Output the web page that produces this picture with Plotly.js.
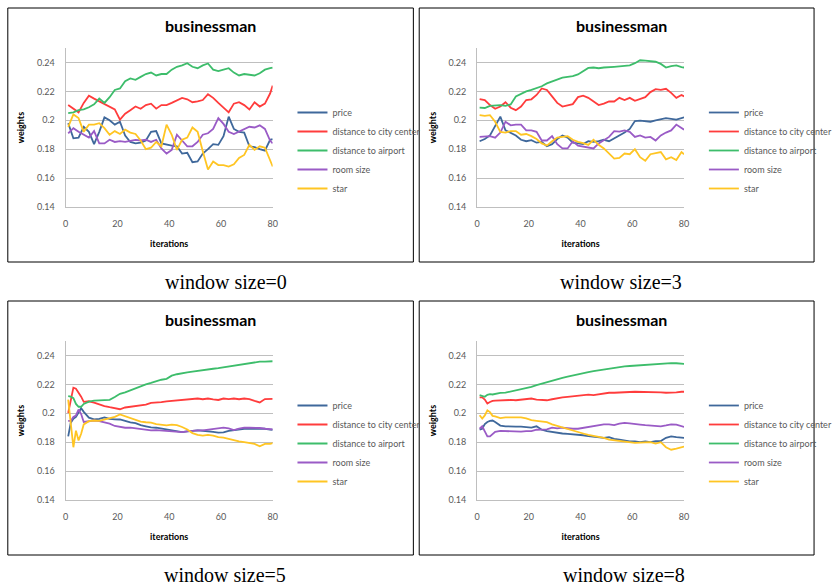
<!DOCTYPE html>
<html>
<head>
<meta charset="utf-8">
<script src="https://cdn.plot.ly/plotly-3.0.1.min.js"></script>
<style>
html,body{margin:0;padding:0;background:#fff;overflow:hidden;}
#chart{width:837px;height:586px;}
</style>
</head>
<body>
<div id="chart"></div>
<script>
// ---------------- data ----------------
const seriesNames = ["price", "distance to city center", "distance to airport", "room size", "star"];
const panelTitle = "businessman";
const captions = ["window size=0", "window size=3", "window size=5", "window size=8"];
const xTickVals = [0, 20, 40, 60, 80];
const yTickVals = [0.14, 0.16, 0.18, 0.2, 0.22, 0.24];
const yTickText = ["0.14", "0.16", "0.18", "0.2", "0.22", "0.24"];

const xSparse = [1,3,5,7,9,11,13,15,17,19,21,23,25,27,29,31,33,35,37,39,41,43,45,47,49,51,53,55,57,59,61,63,65,67,69,71,73,75,77,79,80];
const xDense = [1,2,3,4,5,6,7,9,11,13,15,17,19,21,23,25,27,29,31,33,35,37,39,41,43,45,47,49,51,53,55,57,59,61,63,65,67,69,71,73,75,77,79,80];

// window size = 0
const w0_price = [0.198,0.1875,0.188,0.1955,0.192,0.1835,0.192,0.202,0.200,0.197,0.199,0.1895,0.185,0.184,0.1845,0.186,0.192,0.1925,0.184,0.183,0.1825,0.182,0.177,0.1775,0.171,0.1715,0.177,0.180,0.1835,0.183,0.189,0.2025,0.194,0.192,0.1915,0.182,0.1815,0.180,0.179,0.1865,0.187];
const w0_city = [0.2105,0.208,0.2055,0.212,0.217,0.215,0.213,0.211,0.2095,0.2075,0.2005,0.2045,0.207,0.2095,0.208,0.2105,0.2115,0.208,0.2105,0.2105,0.212,0.2135,0.2155,0.2145,0.2125,0.213,0.214,0.218,0.2155,0.212,0.209,0.2055,0.2115,0.2125,0.2105,0.2075,0.2125,0.2095,0.2115,0.2185,0.224];
const w0_airport = [0.205,0.2055,0.207,0.2075,0.209,0.211,0.215,0.212,0.216,0.221,0.222,0.227,0.229,0.228,0.230,0.232,0.233,0.231,0.232,0.232,0.235,0.237,0.238,0.2395,0.237,0.236,0.238,0.2393,0.235,0.234,0.235,0.236,0.233,0.231,0.232,0.2315,0.231,0.2325,0.235,0.236,0.2365];
const w0_room = [0.191,0.1945,0.192,0.19,0.188,0.1925,0.184,0.184,0.1865,0.185,0.1855,0.185,0.1855,0.1865,0.186,0.1865,0.185,0.1865,0.1805,0.177,0.1795,0.190,0.186,0.182,0.182,0.185,0.190,0.191,0.194,0.2015,0.1975,0.192,0.1905,0.192,0.1935,0.1955,0.195,0.1965,0.194,0.186,0.184];
const w0_star = [0.1955,0.204,0.2015,0.192,0.197,0.197,0.198,0.1945,0.190,0.1925,0.1905,0.1935,0.1915,0.1905,0.186,0.180,0.181,0.185,0.182,0.197,0.190,0.1795,0.1865,0.188,0.195,0.192,0.1785,0.166,0.1715,0.169,0.169,0.168,0.1695,0.174,0.176,0.183,0.1795,0.182,0.181,0.172,0.168];

// window size = 3
const w3_price = [0.1855,0.187,0.1895,0.1965,0.2025,0.193,0.1915,0.1895,0.1865,0.1855,0.1863,0.1845,0.185,0.182,0.1835,0.187,0.1895,0.188,0.1845,0.1838,0.1835,0.1855,0.185,0.1855,0.1865,0.1855,0.1875,0.189,0.1915,0.194,0.1995,0.1998,0.1995,0.199,0.2,0.201,0.2015,0.201,0.2005,0.2015,0.202];
const w3_city = [0.2147,0.214,0.2105,0.208,0.2095,0.2125,0.2087,0.207,0.2095,0.214,0.2145,0.2175,0.222,0.221,0.2165,0.212,0.2095,0.2105,0.2112,0.216,0.217,0.2155,0.213,0.2105,0.2115,0.213,0.213,0.2155,0.214,0.2155,0.2135,0.2148,0.216,0.2195,0.2215,0.221,0.2218,0.219,0.2155,0.2175,0.2165];
const w3_airport = [0.2087,0.2085,0.21,0.2102,0.2105,0.21,0.211,0.2165,0.2185,0.22,0.221,0.222,0.2235,0.2255,0.227,0.2285,0.2295,0.23,0.2305,0.2317,0.234,0.2362,0.2365,0.236,0.2365,0.237,0.237,0.2373,0.2375,0.238,0.2395,0.2415,0.2412,0.241,0.2405,0.239,0.2365,0.2375,0.238,0.2367,0.2365];
const w3_room = [0.1885,0.1885,0.189,0.188,0.1915,0.199,0.1965,0.197,0.197,0.193,0.193,0.192,0.186,0.186,0.189,0.1835,0.1805,0.1805,0.1855,0.1825,0.182,0.181,0.1805,0.184,0.1862,0.1885,0.1925,0.1922,0.193,0.192,0.1885,0.1895,0.188,0.1885,0.186,0.1895,0.1915,0.193,0.197,0.195,0.1935];
const w3_star = [0.2035,0.203,0.2035,0.199,0.192,0.1915,0.1925,0.1925,0.19,0.1905,0.189,0.187,0.184,0.1825,0.1855,0.188,0.1885,0.189,0.1865,0.185,0.1842,0.183,0.1865,0.183,0.1805,0.177,0.1735,0.174,0.177,0.1765,0.18,0.1745,0.172,0.1765,0.177,0.178,0.173,0.1745,0.1725,0.178,0.1765];

// window size = 5
const w5_price = [0.184,0.1935,0.1962,0.1975,0.2005,0.2035,0.201,0.197,0.1958,0.1962,0.1972,0.1962,0.1958,0.1957,0.1948,0.1937,0.1932,0.1918,0.191,0.1902,0.19,0.1895,0.1887,0.1881,0.1878,0.187,0.1875,0.1879,0.1881,0.1879,0.1877,0.1872,0.1866,0.1868,0.1878,0.1884,0.1888,0.1893,0.1893,0.1893,0.1893,0.1893,0.1887,0.1886];
const w5_city = [0.2002,0.2085,0.2177,0.217,0.2145,0.2115,0.2079,0.2083,0.2073,0.206,0.205,0.2042,0.2033,0.2028,0.204,0.2044,0.2048,0.2052,0.206,0.2072,0.2072,0.2077,0.2083,0.2087,0.2091,0.2091,0.2094,0.2098,0.2102,0.2097,0.2102,0.2096,0.2092,0.2102,0.2098,0.2102,0.2097,0.2102,0.2098,0.2086,0.2075,0.2098,0.21,0.21];
const w5_airport = [0.2118,0.2115,0.2105,0.2065,0.2045,0.2045,0.2065,0.208,0.2087,0.2088,0.209,0.2093,0.2112,0.2135,0.2145,0.216,0.2175,0.2188,0.22,0.221,0.2222,0.2232,0.2238,0.226,0.227,0.2278,0.2283,0.2288,0.2294,0.2298,0.2303,0.2308,0.2312,0.2318,0.2325,0.2332,0.2337,0.2342,0.235,0.2355,0.2357,0.2358,0.236,0.236];
const w5_room = [0.1947,0.1947,0.1974,0.1985,0.2026,0.1995,0.194,0.1947,0.195,0.1945,0.1938,0.1928,0.1912,0.1905,0.19,0.19,0.1895,0.1888,0.1885,0.1881,0.1883,0.1881,0.1879,0.1876,0.187,0.187,0.1875,0.1879,0.1881,0.1881,0.1886,0.189,0.1895,0.19,0.1895,0.1883,0.1893,0.19,0.19,0.19,0.1898,0.1893,0.1888,0.1888];
const w5_star = [0.2095,0.194,0.1765,0.188,0.1812,0.1858,0.1923,0.1945,0.195,0.1948,0.1958,0.1966,0.1975,0.1992,0.198,0.1963,0.1955,0.1942,0.1938,0.1935,0.1925,0.192,0.1916,0.1922,0.1918,0.1905,0.1888,0.1863,0.185,0.1845,0.185,0.1845,0.1835,0.1832,0.1822,0.1812,0.1806,0.18,0.1795,0.1788,0.1772,0.1788,0.1788,0.1793];

// window size = 8
const w8_price = [0.1887,0.1893,0.1925,0.194,0.1947,0.195,0.194,0.1915,0.191,0.1911,0.1907,0.1907,0.1905,0.1901,0.191,0.1886,0.1877,0.187,0.1864,0.186,0.1858,0.1856,0.1853,0.1848,0.1842,0.1838,0.1834,0.183,0.1835,0.1823,0.1817,0.1809,0.1806,0.1805,0.18,0.1805,0.18,0.1808,0.1808,0.183,0.184,0.1835,0.183,0.183];
const w8_city = [0.211,0.211,0.2095,0.2068,0.2078,0.2086,0.2088,0.209,0.209,0.2092,0.209,0.2095,0.21,0.2102,0.2095,0.2095,0.209,0.2097,0.2105,0.211,0.2114,0.2118,0.2122,0.2127,0.2129,0.2125,0.213,0.2138,0.2142,0.2142,0.2142,0.2143,0.2147,0.2149,0.2149,0.2149,0.2145,0.2147,0.2145,0.2142,0.2142,0.2145,0.2149,0.2149];
const w8_airport = [0.2125,0.2118,0.2114,0.2128,0.2132,0.213,0.2135,0.2141,0.2143,0.215,0.216,0.2163,0.2172,0.2182,0.2194,0.2205,0.2212,0.2226,0.2233,0.2245,0.2253,0.2262,0.2271,0.2276,0.2284,0.2291,0.2297,0.2305,0.231,0.2316,0.232,0.2324,0.2327,0.233,0.2332,0.2334,0.2335,0.2337,0.2341,0.2345,0.2347,0.2346,0.2342,0.2342];
const w8_room = [0.1893,0.191,0.1875,0.184,0.184,0.1858,0.1872,0.1878,0.1877,0.1872,0.187,0.1873,0.1877,0.1877,0.1886,0.1886,0.1888,0.19,0.1895,0.19,0.1895,0.1893,0.1893,0.19,0.1906,0.1913,0.1918,0.1923,0.1923,0.1918,0.1928,0.1933,0.193,0.1924,0.1922,0.1918,0.1916,0.1914,0.191,0.1916,0.1923,0.1922,0.1908,0.1905];
const w8_star = [0.1986,0.1963,0.1985,0.2021,0.2008,0.1982,0.1978,0.1967,0.1972,0.1972,0.1974,0.1972,0.1965,0.1953,0.1948,0.1945,0.1938,0.1923,0.1912,0.19,0.1888,0.1879,0.187,0.186,0.185,0.1843,0.1838,0.183,0.1818,0.1813,0.181,0.1806,0.18,0.1795,0.1797,0.18,0.18,0.179,0.18,0.1765,0.1748,0.1756,0.1767,0.177];

// ---------------- styling / layout ----------------
const colors = ["#3F689B", "#FF3C3C", "#3DBD6B", "#9A5BC6", "#FFC523"];
const W = 837, H = 586;
const px = v => v / W;
const py = v => 1 - v / H;

const panels = [
  {x: xSparse, ys: [w0_price, w0_city, w0_airport, w0_room, w0_star], ox: 0,   oy: 0,   cx: 232},
  {x: xSparse, ys: [w3_price, w3_city, w3_airport, w3_room, w3_star], ox: 422, oy: 0,   cx: 637},
  {x: xDense,  ys: [w5_price, w5_city, w5_airport, w5_room, w5_star], ox: 0,   oy: 293, cx: 231},
  {x: xDense,  ys: [w8_price, w8_city, w8_airport, w8_room, w8_star], ox: 422, oy: 293, cx: 640}
];

const fam = "Lato, 'Liberation Sans', sans-serif";
const tickFont = {family: fam, size: 9, color: "#595959"};
const boldFont = {family: fam, size: 9, color: "#000"};

const data = [];
const layout = {
  width: W, height: H,
  margin: {l: 0, r: 0, t: 0, b: 0},
  paper_bgcolor: "#fff", plot_bgcolor: "#fff",
  shapes: [], annotations: []
};

panels.forEach((p, i) => {
  const k = i + 1;
  const sfx = k === 1 ? "" : String(k);
  const legendId = k === 1 ? "legend" : "legend" + k;
  p.ys.forEach((y, s) => {
    data.push({
      type: "scatter", mode: "lines",
      x: p.x, y: y, name: seriesNames[s],
      xaxis: "x" + sfx, yaxis: "y" + sfx,
      legend: legendId,
      line: {color: colors[s], width: 1.8},
      hoverinfo: "skip"
    });
  });
  const xL = 67.3 + p.ox, xR = 279.7 + p.ox;
  const yB = 207 + p.oy, yT = 48 + p.oy;
  layout["xaxis" + sfx] = {
    domain: [px(xL), px(xR)], anchor: "y" + sfx,
    range: [0, 80], tickvals: xTickVals, ticks: "",
    showgrid: false, zeroline: false, showline: true, linecolor: "#BFBFBF", linewidth: 1,
    tickfont: tickFont, ticklabelstandoff: 8,
    title: {text: "<b>iterations</b>", font: boldFont, standoff: 12},
    fixedrange: true
  };
  layout["yaxis" + sfx] = {
    domain: [py(yB), py(yT)], anchor: "x" + sfx,
    range: [0.14, 0.25], tickvals: yTickVals, ticktext: yTickText, ticks: "",
    showgrid: true, gridcolor: "#BFBFBF", gridwidth: 1,
    zeroline: false, showline: true, linecolor: "#BFBFBF", linewidth: 1,
    tickfont: tickFont, ticklabelstandoff: 8,
    title: {text: "<b>weights</b>", font: boldFont, standoff: 10},
    fixedrange: true
  };
  layout[legendId] = {
    x: px(300 + p.ox), y: py(98 + p.oy), xanchor: "left", yanchor: "top",
    font: tickFont, bgcolor: "rgba(0,0,0,0)", borderwidth: 0,
    itemwidth: 30, tracegroupgap: 0
  };
  // panel frame
  layout.shapes.push({
    type: "rect", xref: "paper", yref: "paper",
    x0: px(8 + p.ox), x1: px(p.ox ? 835 : 424),
    y0: py(8 + p.oy), y1: py(262 + p.oy),
    line: {color: "#000", width: 1}
  });
  // chart title
  layout.annotations.push({
    xref: "paper", yref: "paper", x: px(215.5 + p.ox), y: py(26 + p.oy),
    xanchor: "center", yanchor: "middle", showarrow: false,
    text: "<b>" + panelTitle + "</b>",
    font: {family: fam, size: 16, color: "#000"}
  });
  // caption
  layout.annotations.push({
    xref: "paper", yref: "paper", x: px(p.cx), y: py(282 + p.oy),
    xanchor: "center", yanchor: "middle", showarrow: false,
    text: captions[i],
    font: {family: "'Liberation Serif', 'Times New Roman', serif", size: 20, color: "#000"}
  });
});

Plotly.newPlot("chart", data, layout, {staticPlot: true, displayModeBar: false});
</script>
</body>
</html>
